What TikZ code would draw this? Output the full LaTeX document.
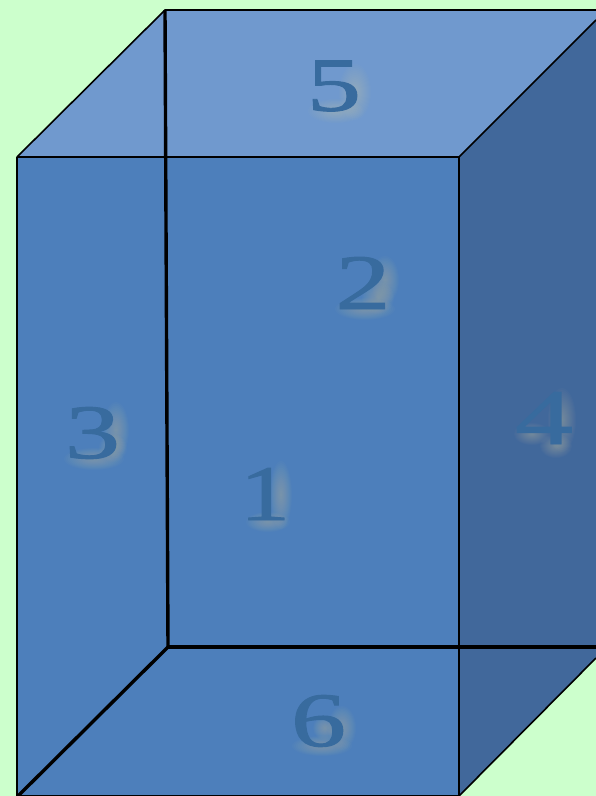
\documentclass[tikz,border=0pt]{standalone}
\usepackage{graphicx}
\usepackage{fontspec}
\setmainfont{Liberation Serif}
\newfontfamily\digitfont[FakeBold=1.2]{Liberation Serif}
\definecolor{bgc}{HTML}{CCFFCC}
\definecolor{frontc}{HTML}{4D7FBB}
\definecolor{topc}{HTML}{7099CE}
\definecolor{sidec}{HTML}{41689B}
\definecolor{digitc}{HTML}{386B9E}
\definecolor{glowc}{HTML}{D8CFA8}
\tikzset{
  face/.style={draw=none},
  edge/.style={draw=black,line width=1.6pt,line join=miter},
  heavy/.style={draw=black,line width=3.4pt},
  digit/.style={inner sep=0pt,outer sep=0pt,text=digitc,font=\digitfont},
  glowpatch/.style={fill=glowc,fill opacity=0.026,draw=none}
}
% soft patch: stacked translucent ellipses, centre x y, radii rx ry
\newcommand{\softglow}[4]{%
  \foreach \k in {1,...,16}{%
    \fill[glowpatch] (#1,#2) ellipse [x radius=#3*\k/16,y radius=#4*\k/16];
  }%
}
\newcommand{\facedigit}[6]{%
  \node[digit] (#1) at (#2,#3) {\resizebox{#4pt}{#5pt}{#6}};%
}
\begin{document}
\begin{tikzpicture}[x=1pt,y=-1pt]
\useasboundingbox (0,0) rectangle (596,796);
\fill[bgc] (0,0) rectangle (596,796);
\coordinate (ftl) at (17,157);
\coordinate (ftr) at (459,157);
\coordinate (fbl) at (18,796);
\coordinate (fbr) at (459,796);
\coordinate (btl) at (165,10);
\coordinate (btr) at (596,10);
\coordinate (bbl) at (168,647);
\coordinate (bbr) at (596,647);
\coordinate (str) at (596,20);
\coordinate (sbr) at (596,658);
% faces
\path[face,fill=frontc] (ftl) -- (ftr) -- (fbr) -- (fbl) -- cycle;
\path[face,fill=topc] (ftl) -- (btl) -- (btr) -- (str) -- (ftr) -- cycle;
\path[face,fill=sidec] (ftr) -- (str) -- (sbr) -- (fbr) -- cycle;
% glows
\softglow{355}{92}{16}{28}\softglow{336}{111}{28}{12}
\softglow{281}{495}{11}{34}\softglow{268}{522}{22}{10}
\softglow{385}{280}{14}{24}\softglow{365}{309}{30}{11}\softglow{378}{298}{16}{16}
\softglow{116}{430}{13}{28}\softglow{94}{459}{30}{11}\softglow{113}{448}{14}{14}
\softglow{562}{420}{14}{32}\softglow{532}{434}{18}{11}\softglow{556}{446}{16}{12}
\softglow{342}{728}{14}{22}\softglow{322}{746}{30}{10}\softglow{325}{728}{12}{12}
% digits
\facedigit{d5}{334}{86}{54}{50}{5}
\facedigit{d2}{363}{283}{55}{52}{2}
\facedigit{d3}{92.5}{433}{55}{51}{3}
\facedigit{d1}{265}{494}{50}{52}{1}
\facedigit{d4}{544}{418}{58}{52}{4}
\facedigit{d6}{318.5}{721}{55}{51}{6}
% edges
\draw[edge] (ftl) -- (ftr) -- (fbr) -- (fbl);
\draw[edge] (ftl) -- (17,796);
\draw[edge] (ftl) -- (btl) -- (btr);
\draw[edge] (ftr) -- (str);
\draw[edge] (fbr) -- (sbr);
\draw[heavy] (btl) -- (bbl);
\draw[heavy] (bbl) -- (bbr);
\draw[heavy] (fbl) -- (bbl);
\end{tikzpicture}
\end{document}
